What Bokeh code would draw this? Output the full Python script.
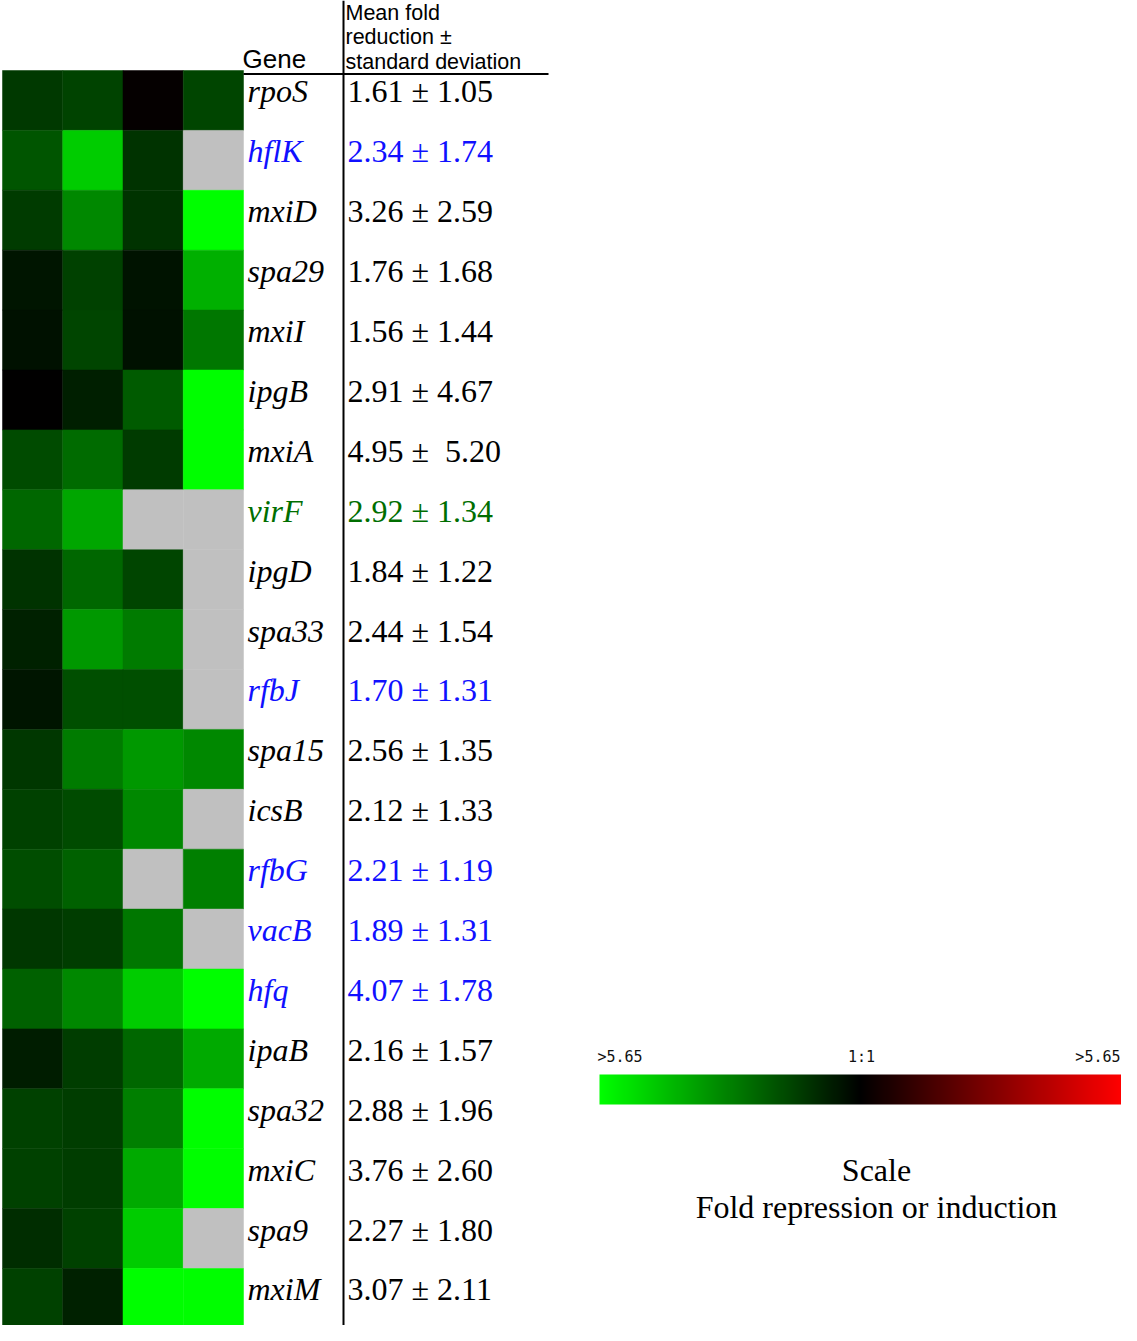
import numpy as np
from bokeh.plotting import figure
from bokeh.models import Range1d, LinearColorMapper, ColumnDataSource
from bokeh.transform import transform
from bokeh.core.properties import value
from bokeh.embed import file_html
from bokeh.resources import INLINE

nan = float("nan")

# ---------------- data ----------------
genes = ["rpoS", "hflK", "mxiD", "spa29", "mxiI", "ipgB", "mxiA", "virF", "ipgD",
         "spa33", "rfbJ", "spa15", "icsB", "rfbG", "vacB", "hfq", "ipaB", "spa32",
         "mxiC", "spa9", "mxiM"]
fold_labels = ["1.61 \u00b1 1.05", "2.34 \u00b1 1.74", "3.26 \u00b1 2.59", "1.76 \u00b1 1.68",
               "1.56 \u00b1 1.44", "2.91 \u00b1 4.67", "4.95 \u00b1\u00a0 5.20", "2.92 \u00b1 1.34",
               "1.84 \u00b1 1.22", "2.44 \u00b1 1.54", "1.70 \u00b1 1.31", "2.56 \u00b1 1.35",
               "2.12 \u00b1 1.33", "2.21 \u00b1 1.19", "1.89 \u00b1 1.31", "4.07 \u00b1 1.78",
               "2.16 \u00b1 1.57", "2.88 \u00b1 1.96", "3.76 \u00b1 2.60", "2.27 \u00b1 1.80",
               "3.07 \u00b1 2.11"]
gene_groups = ["other", "regulator", "other", "other", "other", "other", "other", "virF",
               "other", "other", "regulator", "other", "other", "regulator", "regulator",
               "regulator", "other", "other", "other", "other", "other"]

# log2 ratios per condition (negative = repression, green); nan = missing (grey)
cond_1 = [-0.55, -0.83, -0.57, -0.21, -0.16, 0.00, -0.73, -1.00, -0.50, -0.33, -0.20,
          -0.53, -0.63, -0.75, -0.53, -0.94, -0.29, -0.63, -0.63, -0.44, -0.63]
cond_2 = [-0.65, -2.00, -1.33, -0.63, -0.67, -0.31, -1.04, -1.63, -1.00, -1.50, -0.78,
          -1.20, -0.73, -0.94, -0.60, -1.33, -0.60, -0.60, -0.60, -0.63, -0.33]
cond_3 = [0.05, -0.50, -0.50, -0.18, -0.16, -0.88, -0.57, nan, -0.67, -1.20, -0.78,
          -1.50, -1.33, nan, -1.17, -2.00, -1.00, -1.25, -1.67, -2.00, -2.60]
cond_4 = [-0.67, nan, -2.70, -1.73, -1.17, -2.80, -2.90, nan, nan, nan, nan,
          -1.33, nan, -1.25, nan, -2.60, -1.67, -2.70, -2.80, nan, -2.90]
conditions = [cond_1, cond_2, cond_3, cond_4]

scale_min, scale_max = -2.5, 2.5
scale_labels = [">5.65", "1:1", ">5.65"]
header_lines = ["Mean fold", "reduction \u00b1", "standard deviation"]

# ---------------- layout helpers (screen px -> data units) ----------------
CW = 60.25
RH = 59.9
X0, Y0 = 10.0, 78.0
def sx(px):
    return (px - X0) / CW
def sy(py):
    return (py - Y0) / RH

p = figure(width=1121, height=1325,
           x_range=Range1d(sx(8), sx(1129)), y_range=Range1d(sy(1333), sy(8)),
           output_backend="svg", toolbar_location=None, min_border=0,
           x_axis_location=None, y_axis_location=None)
p.grid.visible = False
p.outline_line_color = None
p.background_fill_color = "white"

palette = []
for i in range(256):
    t = (i + 0.5) / 128.0 - 1.0
    if t < 0:
        palette.append("#00%02x00" % int(round(-t * 255)))
    else:
        palette.append("#%02x0000" % int(round(t * 255)))
mapper = LinearColorMapper(palette=palette, low=scale_min, high=scale_max,
                           nan_color="#c0c0c0")

# heatmap
xs, ys, vs = [], [], []
for c, col in enumerate(conditions):
    for r, v in enumerate(col):
        xs.append(c + 0.5)
        ys.append(r + 0.5)
        vs.append(v)
hsrc = ColumnDataSource(dict(x=xs, y=ys, v=vs))
p.rect(x="x", y="y", width=1, height=1, source=hsrc,
       fill_color=transform("v", mapper), line_color=transform("v", mapper),
       line_width=0.5)

# table texts
color_for = {"other": "#000000", "regulator": "#1010ff", "virF": "#006e00"}
tsrc = ColumnDataSource(dict(
    y=[r + 0.5 - 9.0 / RH for r in range(len(genes))],
    gene=genes, fold=fold_labels,
    color=[color_for[g] for g in gene_groups]))
p.text(x=sx(255), y="y", text="gene", source=tsrc, text_color="color",
       text_font=value("Liberation Serif"), text_font_style="italic",
       text_font_size="32px", text_baseline="middle", text_align="left")
p.text(x=sx(355), y="y", text="fold", source=tsrc, text_color="color",
       text_font=value("Liberation Serif"), text_font_size="32px",
       text_baseline="middle", text_align="left")

# header
p.text(x=[sx(250)], y=[sy(66)], text=["Gene"], text_color="black",
       text_font=value("Liberation Sans"), text_font_size="26px",
       text_baseline="middle", text_align="left")
p.text(x=[sx(353)] * 3, y=[sy(20), sy(44.5), sy(69)], text=header_lines,
       text_color="black", text_font=value("Liberation Sans"),
       text_font_size="21.5px", text_baseline="middle", text_align="left")

# table rules
p.segment(x0=[sx(351)], y0=[sy(8)], x1=[sx(351)], y1=[sy(1341)],
          line_color="black", line_width=2)
p.segment(x0=[sx(251)], y0=[sy(81.5)], x1=[sx(556)], y1=[sy(81.5)],
          line_color="black", line_width=2)

# colour scale bar
bar_l, bar_r = 607.0, 1129.0
grad_vals = np.linspace(scale_min, scale_max, 256)
p.image(image=[grad_vals.reshape(1, -1)], x=sx(bar_l), y=sy(1082),
        dw=sx(bar_r) - sx(bar_l), dh=sy(1112) - sy(1082), color_mapper=mapper)

p.text(x=[sx(605), sx(869), sx(1128)], y=[sy(1064)] * 3, text=scale_labels,
       text_align=["left", "center", "right"], text_color="#111111",
       text_font=value("DejaVu Sans Mono"), text_font_size="15px",
       text_baseline="middle")
p.text(x=[sx(884)] * 2, y=[sy(1177), sy(1214)],
       text=["Scale", "Fold repression or induction"], text_color="black",
       text_font=value("Liberation Serif"), text_font_size="32px",
       text_baseline="middle", text_align="center")

open("out.html", "w").write(file_html(p, INLINE))
